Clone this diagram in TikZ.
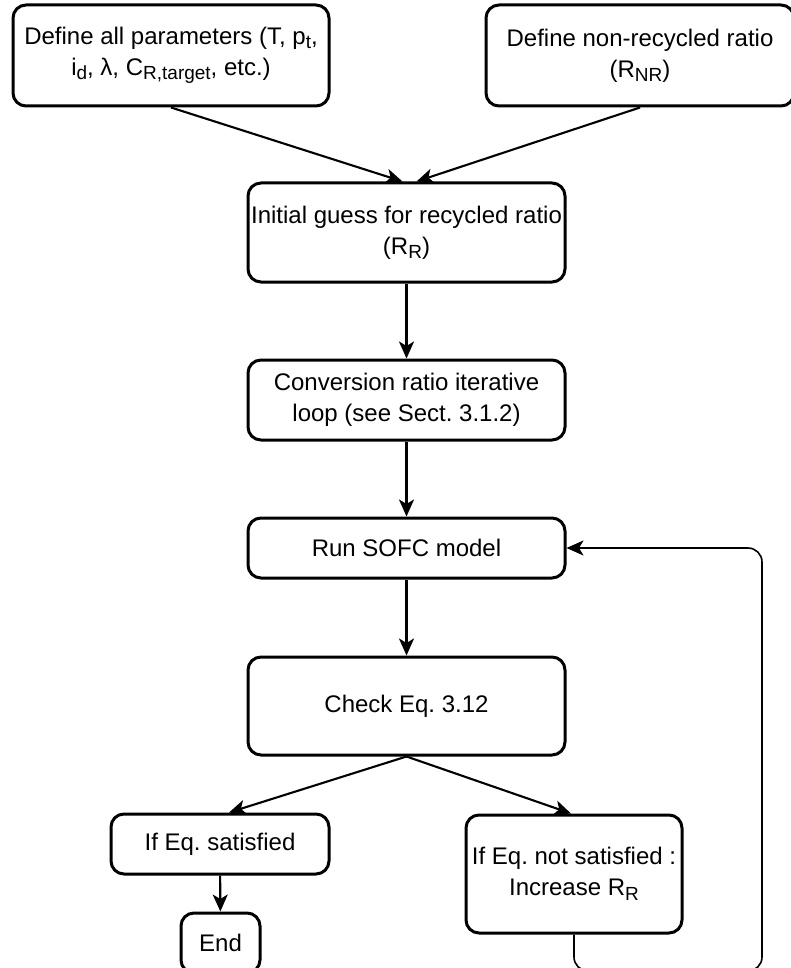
\documentclass[tikz,border=0pt]{standalone}
\usepackage{fontspec}
\setmainfont{Liberation Sans}
\usetikzlibrary{arrows.meta}
\frenchspacing

% lowered, smaller text for indices
\newcommand{\idx}[1]{\raisebox{-0.35ex}{\fontsize{19}{19}\selectfont #1}}

\begin{document}
\begin{tikzpicture}[x=1pt, y=-1pt,
  box/.style={draw=black, line width=3pt, rounded corners=13pt, fill=white,
    align=center, inner sep=2pt, font=\fontsize{24}{31}\selectfont},
  link/.style={draw=black, line width=2.1pt,
    -{Stealth[length=17pt, width=15pt, inset=4.5pt]}},
  backlink/.style={draw=black, line width=1.6pt, rounded corners=14pt,
    -{Stealth[length=17pt, width=15pt, inset=4.5pt]}}
]
\useasboundingbox (0,0) rectangle (790,968);

% process steps
\node[box, minimum width=316pt, minimum height=101pt] (params) at (171,55.5)
  {Define all parameters (T, p\idx{t},\\ i\idx{d}, λ, C\idx{R,target}, etc.)};
\node[box, minimum width=308pt, minimum height=101pt] (nonrec) at (640,55.5)
  {Define non-recycled ratio\\ (R\idx{NR})};
\node[box, minimum width=317pt, minimum height=99pt] (guess) at (406.5,232.5)
  {Initial guess for recycled ratio\\ (R\idx{R})};
\node[box, minimum width=317pt, minimum height=80pt] (conv) at (406.5,400)
  {Conversion ratio iterative\\ loop (see Sect. 3.1.2)};
\node[box, minimum width=317pt, minimum height=60pt] (sofc) at (406.5,548)
  {Run SOFC model};
\node[box, minimum width=317pt, minimum height=98pt] (check) at (406.5,706)
  {Check Eq. 3.12};
\node[box, minimum width=218pt, minimum height=60pt] (ok) at (220,844)
  {If Eq. satisfied};
\node[box, minimum width=79pt, minimum height=60pt] (stop) at (220.5,943)
  {End};
\node[box, minimum width=216pt, minimum height=118pt] (notok) at (574,874)
  {If Eq. not satisfied :\\ Increase R\idx{R}};

% flow
\draw[link] (params.south) -- ([xshift=-4pt]guess.north);
\draw[link] (nonrec.south) -- ([xshift=10pt]guess.north);
\draw[link] (guess) -- (conv);
\draw[link] (conv) -- (sofc);
\draw[link] (sofc) -- (check);
\draw[link] (check.south) -- ([xshift=9pt]ok.north);
\draw[link] (check.south) -- ([xshift=-3pt]notok.north);
\draw[link] (ok) -- (stop);

% iteration back to the SOFC model
\coordinate (loopcorner) at (762,971);
\draw[backlink] (notok.south) |- (loopcorner) |- (sofc.east);
\end{tikzpicture}
\end{document}
